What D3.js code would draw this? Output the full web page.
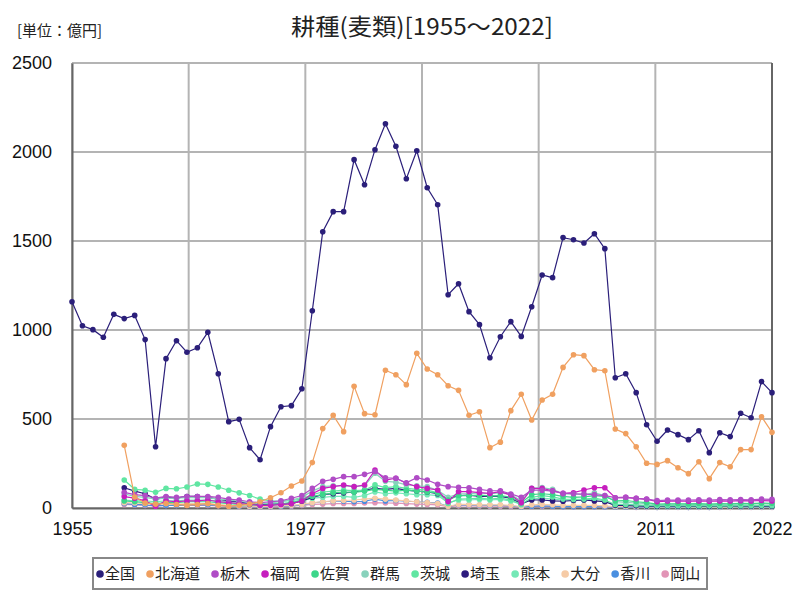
<!DOCTYPE html>
<html><head><meta charset="utf-8">
<script src="https://cdn.jsdelivr.net/npm/d3@7"></script>
<style>body{margin:0;background:#fff}svg{display:block}</style>
</head><body>
<svg id="c" width="800" height="600"></svg>
<script>
const title = "耕種(麦類)[1955～2022]";
const unitLabel = "[単位：億円]";
const seriesNames = ["全国","北海道","栃木","福岡","佐賀","群馬","茨城","埼玉","熊本","大分","香川","岡山"];
const seriesColors = ["#2b1f7a","#f0a060","#b04cc6","#c61ebe","#3cd68a","#88d2bc","#60e6a2","#2d1b7e","#74e8b6","#f6cba6","#4a8fe0","#e294b6"];
const yTicks = [0,500,1000,1500,2000,2500];
const yearsAll = d3.range(1955, 2023);
const years1960 = d3.range(1960, 2023);

const zenkoku = [1159,1024,1002,959,1088,1064,1082,946,344,839,940,875,900,987,754,485,498,339,271,457,569,575,670,1108,1552,1665,1665,1957,1816,2013,2159,2032,1850,2007,1799,1704,1198,1260,1103,1030,844,962,1047,964,1131,1309,1294,1519,1507,1489,1541,1457,732,754,648,468,375,438,412,384,434,311,423,401,532,507,710,648];
const hokkaido = [352,62,28,22,26,20,16,20,25,15,10,15,22,35,58,86,124,152,255,446,521,429,684,530,524,774,749,693,869,781,749,687,661,521,541,339,370,547,639,494,607,639,790,861,856,777,771,444,418,344,251,245,266,226,193,260,165,255,232,328,328,513,425];
const tochigi = [88,75,70,55,65,60,65,65,65,60,50,45,35,30,35,40,55,70,110,150,161,176,176,189,205,170,167,142,170,157,133,120,116,114,105,97,97,79,60,100,100,95,82,80,78,75,70,58,60,54,50,42,44,44,45,46,44,47,46,47,46,50,49];
const fukuoka = [64,55,40,10,40,35,40,40,45,35,30,25,20,15,15,20,25,40,80,110,120,129,120,129,213,157,167,139,120,110,101,36,92,92,86,82,92,73,30,110,110,97,82,86,101,114,114,58,60,54,49,36,39,40,38,40,38,40,39,41,40,42,40];
const saga = [40,35,30,25,30,30,35,35,35,30,25,20,18,15,18,22,30,45,65,75,85,90,88,95,105,100,95,100,95,90,85,45,70,70,72,68,70,60,30,75,80,75,65,60,62,70,65,40,42,35,30,22,24,24,23,25,22,25,24,26,25,27,26];
const gunma = [79,65,60,50,55,55,58,60,58,50,45,38,30,25,28,35,45,60,95,120,125,125,120,125,195,150,145,130,125,120,100,60,80,80,85,80,85,75,40,110,115,105,80,78,75,85,70,35,32,28,25,18,20,20,20,21,19,21,20,22,21,23,22];
const ibaraki = [157,105,100,88,110,108,118,135,133,118,100,85,70,50,40,38,42,50,75,90,95,100,98,100,130,115,120,110,105,100,85,25,50,52,55,50,55,45,20,60,70,62,50,48,50,55,45,20,20,18,15,12,13,13,12,13,12,13,12,13,13,14,13];
const saitama = [114,95,80,50,60,55,65,65,60,50,40,35,25,20,20,22,25,40,60,75,80,85,90,100,110,105,110,100,95,90,80,50,70,72,65,65,65,55,25,45,45,40,38,42,45,40,35,15,14,12,11,9,10,10,9,10,9,10,10,10,10,11,10];
const kumamoto = [45,40,40,35,40,40,45,45,45,40,35,30,25,20,22,25,30,40,55,60,65,65,60,70,90,80,85,80,75,75,70,30,45,45,48,45,48,40,20,50,55,50,45,42,45,50,40,15,14,12,10,8,9,9,8,9,8,9,9,9,9,9,9];
const oita = [30,28,25,20,25,22,25,25,25,20,15,12,10,8,10,12,15,20,30,35,40,42,45,50,55,50,45,40,35,30,25,10,20,20,18,18,18,15,8,18,20,18,15,15,15,15,12,8,8,7,6,5,6,6,5,6,5,6,5,6,6,6,6];
const kagawa = [25,20,18,12,15,15,18,18,18,15,12,10,8,6,8,10,12,18,28,35,38,38,35,38,50,40,42,38,35,32,28,10,18,18,16,15,15,12,5,10,12,10,8,8,8,8,7,5,5,4,4,3,4,4,3,4,3,4,4,4,4,4,4];
const okayama = [20,18,15,12,14,14,15,15,15,12,10,8,6,5,6,8,10,14,20,22,25,25,25,28,30,28,27,25,22,20,18,8,12,12,11,10,10,8,4,8,9,8,7,7,7,7,6,4,4,3,3,3,3,3,3,3,3,3,3,3,3,3,3];

const seriesValues = [zenkoku,hokkaido,tochigi,fukuoka,saga,gunma,ibaraki,saitama,kumamoto,oita,kagawa,okayama];

const svg = d3.select("#c");
const m = {l:72, r:772, t:63, b:508};
const x = d3.scaleLinear().domain([1955,2022]).range([m.l,m.r]);
const y = d3.scaleLinear().domain([0,2500]).range([m.b,m.t]);
const numFont = "'Liberation Sans Narrow','Liberation Sans',sans-serif";
const jpFont = "'Noto Sans CJK JP',sans-serif";

// grid
const xTickVals = d3.range(7).map(i => 1955 + i*(2022-1955)/6);
const g = svg.append("g");
g.selectAll("line.gx").data(xTickVals).join("line")
  .attr("x1",d=>x(d)).attr("x2",d=>x(d)).attr("y1",m.t).attr("y2",m.b)
  .attr("stroke","#b4b4b4").attr("stroke-width",2);
g.selectAll("line.gy").data(yTicks).join("line")
  .attr("x1",m.l).attr("x2",m.r).attr("y1",d=>y(d)).attr("y2",d=>y(d))
  .attr("stroke","#b4b4b4").attr("stroke-width",2);

// axes
const yAxis = d3.axisLeft(y).tickValues(yTicks).tickSize(0).tickPadding(20).tickFormat(d3.format("d"));
const ya = svg.append("g").attr("transform",`translate(${m.l},0)`).call(yAxis);
ya.select(".domain").attr("stroke","#666").attr("stroke-width",2);
ya.selectAll("text").attr("font-family",numFont).attr("font-size",18).attr("fill","#111");
const xAxis = d3.axisBottom(x).tickValues(xTickVals).tickSize(0).tickPadding(14).tickFormat(d=>Math.round(d));
const xa = svg.append("g").attr("transform",`translate(0,${m.b})`).call(xAxis);
xa.select(".domain").attr("stroke","#666").attr("stroke-width",2);
xa.selectAll("text").attr("font-family",numFont).attr("font-size",18).attr("fill","#111");
svg.append("line").attr("x1",m.r).attr("x2",m.r).attr("y1",m.t).attr("y2",m.b).attr("stroke","#666").attr("stroke-width",2);

// series
const line = d3.line().x(d=>x(d[0])).y(d=>y(d[1]));
const order = d3.range(seriesNames.length).reverse();
order.forEach(i => {
  const yrs = seriesValues[i].length === yearsAll.length ? yearsAll : years1960;
  const pts = yrs.map((yr,k)=>[yr, seriesValues[i][k]]);
  const sg = svg.append("g");
  sg.append("path").datum(pts).attr("d",line).attr("fill","none")
    .attr("stroke",seriesColors[i]).attr("stroke-width",1.2);
  sg.selectAll("circle").data(pts).join("circle")
    .attr("cx",d=>x(d[0])).attr("cy",d=>y(d[1])).attr("r",2.8).attr("fill",seriesColors[i]);
});

// titles
svg.append("text").attr("x",422).attr("y",35).attr("text-anchor","middle")
  .attr("font-family",jpFont).attr("font-size",23).attr("fill","#222")
  .attr("textLength",262).attr("lengthAdjust","spacingAndGlyphs").text(title);
svg.append("text").attr("x",17).attr("y",36)
  .attr("font-family",jpFont).attr("font-size",15).attr("fill","#222").text(unitLabel);

// legend
const lg = svg.append("g");
lg.append("rect").attr("x",93).attr("y",558).attr("width",614).attr("height",31)
  .attr("fill","#fff").attr("stroke","#888").attr("stroke-width",2);
let cx = 100;
seriesNames.forEach((n,i)=>{
  lg.append("circle").attr("cx",cx).attr("cy",574).attr("r",3.8).attr("fill",seriesColors[i]);
  const t = lg.append("text").attr("x",cx+5).attr("y",579).attr("font-family",jpFont).attr("font-size",15)
    .attr("fill","#222").text(n);
  cx += 5 + t.node().getComputedTextLength() + 15;
});
</script>
</body></html>
